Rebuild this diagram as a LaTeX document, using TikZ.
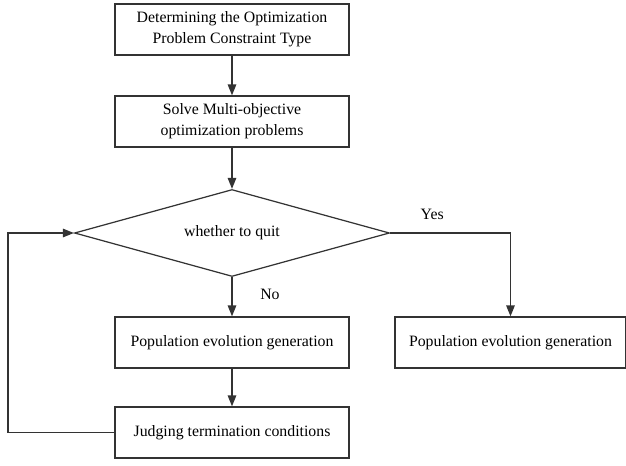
\documentclass[tikz,border=0pt]{standalone}
\usepackage{fontspec}
\setmainfont{Liberation Serif}
\usetikzlibrary{arrows.meta,positioning,shapes.geometric}
\definecolor{clinea}{HTML}{333333}
\tikzset{
  caja/.style={draw=clinea,line width=0.7pt,align=center,inner sep=3pt,
               font=\fontsize{9}{12}\selectfont,minimum width=4.68cm,minimum height=1.02cm},
  rombo/.style={draw=clinea,line width=0.7pt,diamond,aspect=3.6,inner sep=0pt,
                font=\fontsize{9}{12}\selectfont,minimum width=6.3cm,minimum height=1.74cm},
  flecha/.style={-{Triangle[length=2.2mm,width=1.7mm]},draw=clinea,line width=0.7pt},
  et/.style={font=\fontsize{9}{12}\selectfont,inner sep=1.5pt},
}
\begin{document}
\begin{tikzpicture}[x=1cm,y=1cm]
\useasboundingbox (0,0) rectangle (12.52,-9.32);

% ---------------- columna principal ----------------
\node[caja] (tipo) at (4.64,-0.59)
  {Determining the Optimization\\Problem Constraint Type};
\node[caja] (resolver) at (4.64,-2.43)
  {Solve Multi-objective\\optimization problems};
\node[rombo] (salir) at (4.64,-4.66) {whether to quit};
\node[caja] (poblacion) at (4.64,-6.85) {Population evolution generation};
\node[caja] (juzgar) at (4.64,-8.65) {Judging termination conditions};

% rama de salida
\node[caja,minimum width=4.62cm] (final) at (10.21,-6.85) {Population evolution generation};

\draw[flecha] (tipo) -- (resolver);
\draw[flecha] (resolver) -- (salir);
\draw[flecha] (salir) -- node[et,right=5mm,pos=0.45]{No} (poblacion);
\draw[flecha] (poblacion) -- (juzgar);
\draw[flecha] (salir.east) -- node[et,above=2mm,pos=0.35]{Yes} (final.north |- salir.east) -- (final.north);
\draw[flecha] (juzgar.west) -- (0.16,-8.65) -- (0.16,-4.66) -- (salir.west);

\end{tikzpicture}
\end{document}
